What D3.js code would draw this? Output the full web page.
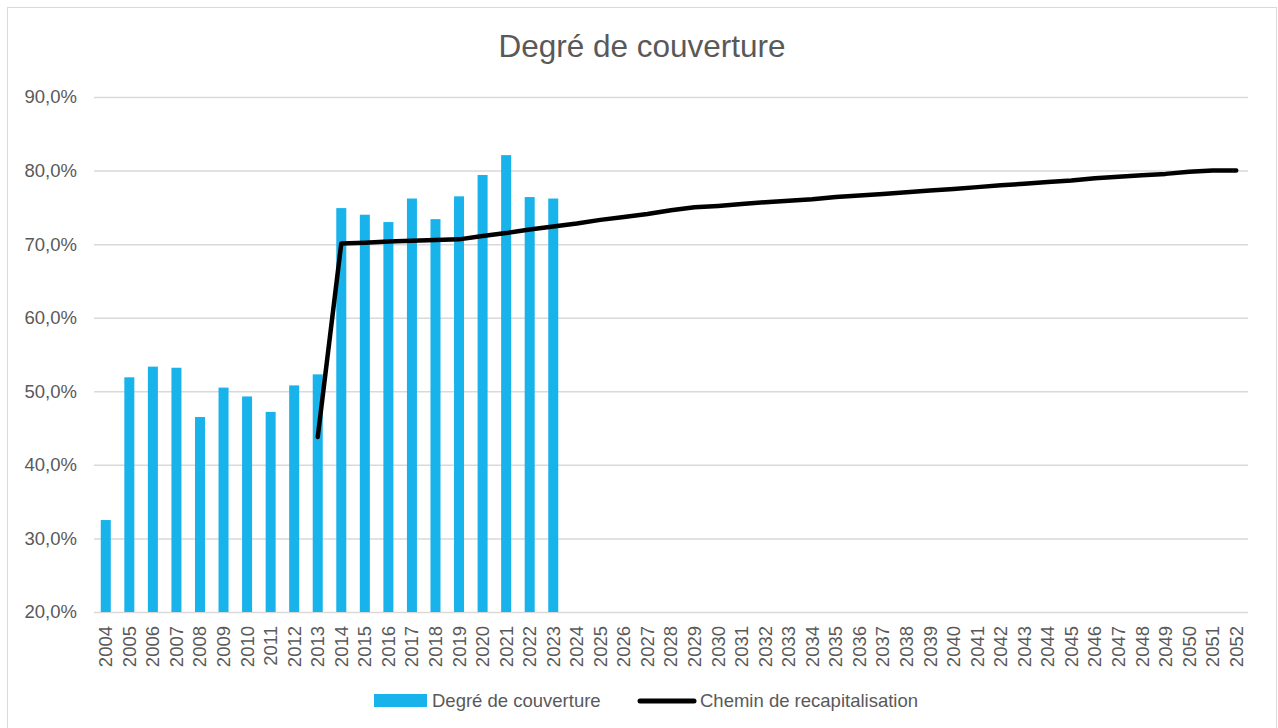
<!DOCTYPE html>
<html>
<head>
<meta charset="utf-8">
<script src="https://cdn.jsdelivr.net/npm/d3@7"></script>
<style>
  body { margin: 0; background: #fff; }
  svg text { font-family: "Liberation Sans", Arial, sans-serif; fill: #595959; }
</style>
</head>
<body>
<svg id="chart" width="1278" height="728"></svg>
<script>
// years 2004..2052
const years = [];
for (let y = 2004; y <= 2052; y++) years.push(String(y));

// Degré de couverture (bars), 2004..2023
const coverYears = ["2004","2005","2006","2007","2008","2009","2010","2011","2012","2013",
                    "2014","2015","2016","2017","2018","2019","2020","2021","2022","2023"];
const coverValues = [32.5, 51.9, 53.35, 53.2, 46.5, 50.5, 49.3, 47.2, 50.8, 52.3,
                     74.9, 74.0, 73.0, 76.2, 73.4, 76.5, 79.4, 82.1, 76.4, 76.2];

// Chemin de recapitalisation (line), 2013..2052
const pathYears = years.slice(9);
const pathValues = [43.8, 70.1, 70.2, 70.35, 70.45, 70.55, 70.65, 71.1, 71.5, 72.0,
                    72.4, 72.8, 73.3, 73.7, 74.1, 74.6, 75.0, 75.2, 75.45, 75.7,
                    75.9, 76.1, 76.4, 76.6, 76.8, 77.05, 77.3, 77.5, 77.75, 78.0,
                    78.2, 78.45, 78.65, 78.95, 79.15, 79.35, 79.55, 79.85, 80.0, 80.0];

const yTicks = [20, 30, 40, 50, 60, 70, 80, 90];

const svg = d3.select("#chart");

// outer chart frame
svg.append("rect")
    .attr("x", 7.5).attr("y", 7.5)
    .attr("width", 1269).attr("height", 730)
    .attr("fill", "none")
    .attr("stroke", "#d9d9d9")
    .attr("stroke-width", 1);

const x = d3.scaleBand()
    .domain(years)
    .range([94, 1248])
    .paddingInner(0.575)
    .paddingOuter(0.2875);

const y = d3.scaleLinear()
    .domain([20, 90])
    .range([612, 97]);

const fr = d3.formatLocale({decimal: ",", thousands: " ", grouping: [3], currency: ["", "€"]});
const fmt = d => fr.format(".1f")(d) + "%";

// title
svg.append("text")
    .attr("x", 642).attr("y", 57)
    .attr("text-anchor", "middle")
    .attr("font-size", 31.5)
    .text("Degré de couverture");

// gridlines
svg.append("g")
    .selectAll("line")
    .data(yTicks)
    .join("line")
    .attr("x1", 94).attr("x2", 1248)
    .attr("y1", d => y(d) + 0.5).attr("y2", d => y(d) + 0.5)
    .attr("stroke", "#d9d9d9")
    .attr("stroke-width", 1.5);

// y axis labels
const yAxis = svg.append("g")
    .attr("transform", "translate(94,0)")
    .call(d3.axisLeft(y).tickValues(yTicks).tickFormat(fmt).tickSize(0).tickPadding(17));
yAxis.select(".domain").remove();
yAxis.selectAll("text")
    .attr("font-size", 18.5)
    .attr("fill", "#595959")
    .attr("font-family", "Liberation Sans, Arial, sans-serif");

// x axis labels
const xAxis = svg.append("g")
    .attr("transform", "translate(0,612)")
    .call(d3.axisBottom(x).tickSize(0).tickPadding(0));
xAxis.select(".domain").remove();
xAxis.selectAll("text")
    .attr("font-size", 18.5)
    .attr("fill", "#595959")
    .attr("font-family", "Liberation Sans, Arial, sans-serif")
    .attr("text-anchor", "end")
    .attr("dy", "0.35em")
    .attr("transform", "translate(0,14) rotate(-90)")
    .attr("x", 0).attr("y", 0);

// bars
svg.append("g")
    .selectAll("rect")
    .data(coverYears.map((yr, i) => ({yr, v: coverValues[i]})))
    .join("rect")
    .attr("x", d => x(d.yr))
    .attr("y", d => y(d.v))
    .attr("width", x.bandwidth())
    .attr("height", d => y(20) - y(d.v))
    .attr("fill", "#19b3eb");

// recapitalisation path
const line = d3.line()
    .x(d => x(d.yr) + x.bandwidth() / 2)
    .y(d => y(d.v));

svg.append("path")
    .datum(pathYears.map((yr, i) => ({yr, v: pathValues[i]})))
    .attr("d", line)
    .attr("fill", "none")
    .attr("stroke", "#000")
    .attr("stroke-width", 4.5)
    .attr("stroke-linecap", "round")
    .attr("stroke-linejoin", "round");

// legend
const legend = svg.append("g");
legend.append("rect")
    .attr("x", 374).attr("y", 694)
    .attr("width", 53).attr("height", 13)
    .attr("fill", "#19b3eb");
legend.append("text")
    .attr("x", 432).attr("y", 707)
    .attr("font-size", 18.5)
    .text("Degré de couverture");
legend.append("line")
    .attr("x1", 640).attr("x2", 694)
    .attr("y1", 701).attr("y2", 701)
    .attr("stroke", "#000")
    .attr("stroke-width", 5)
    .attr("stroke-linecap", "round");
legend.append("text")
    .attr("x", 700).attr("y", 707)
    .attr("font-size", 18.5)
    .text("Chemin de recapitalisation");
</script>
</body>
</html>
